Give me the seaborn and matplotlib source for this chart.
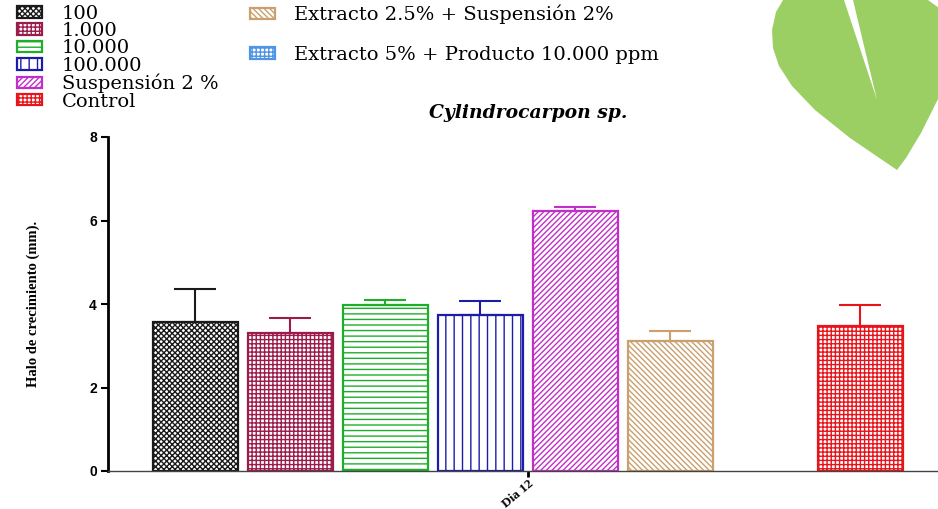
import numpy as np
import pandas as pd
import matplotlib
matplotlib.use("Agg")
import matplotlib.pyplot as plt
import seaborn as sns
from matplotlib.patches import Patch, Polygon

# datos (Dia 12)
grupos = ["100", "1.000", "10.000", "100.000", "Suspensión 2 %",
          "Extracto 2.5% + Suspensión 2%", "Extracto 5% + Producto 10.000 ppm", "Control"]
medias = [3.57, 3.31, 3.98, 3.74, 6.23, 3.11, np.nan, 3.47]
errores = [0.79, 0.35, 0.12, 0.33, 0.09, 0.24, np.nan, 0.51]
colores = ["#1a1a1a", "#9b1b4b", "#1fae2a", "#1c1ca8", "#c030c8", "#c9a06e", "#4f95e6", "#e8141c"]
tramas = ["xxxxxx", "++++", "---", "||", "//////", "\\\\\\\\\\\\", "++++", "++++"]
orden_leyenda_izq = ["100", "1.000", "10.000", "100.000", "Suspensión 2 %", "Control"]
orden_leyenda_der = ["Extracto 2.5% + Suspensión 2%", "Extracto 5% + Producto 10.000 ppm"]
y_ticks = [0, 2, 4, 6, 8]

sns.set_style("white")
plt.rcParams["hatch.linewidth"] = 1.0
plt.rcParams["text.color"] = "black"
plt.rcParams["axes.labelcolor"] = "black"
plt.rcParams["xtick.color"] = "black"
plt.rcParams["ytick.color"] = "black"

df = pd.DataFrame({"grupo": grupos, "media": medias})

fig = plt.figure(figsize=(9.38, 5.09), dpi=100)

# hoja decorativa (esquina superior derecha), detras del grafico
hoja = [(783, 0), (776, 12), (772, 30), (773, 48), (779, 66), (792, 86), (815, 110),
        (850, 138), (897, 170), (906, 158), (921, 133), (939, 97), (939, 8), (928, 0)]
vena = [(844, 0), (853, 0), (877, 100)]
for pts, col in [(hoja, "#9ccf63"), (vena, "white")]:
    fig.add_artist(Polygon([(x / 938, 1 - y / 509) for x, y in pts], closed=True,
                           transform=fig.transFigure, facecolor=col, edgecolor="none", zorder=0))

ax = fig.add_axes([108 / 938, 38 / 509, 830 / 938, 334 / 509])
ax.patch.set_alpha(0)

sns.barplot(data=df, x="grupo", y="media", hue="grupo", order=grupos,
            palette=dict(zip(grupos, colores)), width=0.895, legend=False,
            errorbar=None, ax=ax)

# estilo de cada barra: fondo blanco, borde y trama del color del grupo
for p in ax.patches:
    if np.isnan(p.get_height()):
        continue
    i = int(round(p.get_x() + p.get_width() / 2))
    p.set_facecolor("white")
    p.set_edgecolor(colores[i])
    p.set_hatch(tramas[i])
    p.set_linewidth(1.6)

# barras de error (solo hacia arriba)
for i, (m, e) in enumerate(zip(medias, errores)):
    if np.isnan(m):
        continue
    ax.errorbar(i, m, yerr=[[0], [e]], color=colores[i], capsize=15,
                elinewidth=1.5, capthick=1.5, zorder=3)

ax.set_xlim(-0.921, 7.816)
ax.set_ylim(0, 8)
ax.set_yticks(y_ticks)
ax.set_yticklabels([str(t) for t in y_ticks], fontfamily="Liberation Sans",
                   fontweight="bold", fontsize=10)
ax.set_xticks([3.5])
ax.set_xticklabels(["Dia 12"], rotation=40, ha="right", rotation_mode="anchor",
                   fontfamily="Liberation Serif", fontweight="bold", fontsize=9.5)
ax.set_xlabel("")
ax.set_ylabel("Halo de crecimiento (mm).", fontfamily="Liberation Serif",
              fontweight="bold", fontsize=10.5)
ax.yaxis.set_label_coords(-0.082, 0.5)

sns.despine(ax=ax)
ax.spines["left"].set_linewidth(2)
ax.spines["left"].set_color("black")
ax.spines["bottom"].set_linewidth(1)
ax.spines["bottom"].set_color("#444444")
ax.tick_params(axis="y", direction="out", length=5, width=1.5, color="black", pad=3, left=True)
ax.tick_params(axis="x", direction="out", length=4, width=2, color="black", pad=0.5, bottom=True)

fig.text(528 / 938, 1 - 113 / 509, "Cylindrocarpon sp.", ha="center", va="center",
         fontfamily="DejaVu Serif", fontstyle="italic", fontweight="bold", fontsize=13.5)

# leyendas
def handle(nombre):
    i = grupos.index(nombre)
    return Patch(facecolor="white", edgecolor=colores[i], hatch=tramas[i], linewidth=1.6)

prop = {"family": "DejaVu Serif", "size": 14}
fig.legend([handle(g) for g in orden_leyenda_izq], orden_leyenda_izq,
           loc="upper left", bbox_to_anchor=(0.014, 0.998), frameon=False, prop=prop,
           handlelength=1.3, handleheight=0.55, handletextpad=1.0,
           labelspacing=-0.04, borderaxespad=0, borderpad=0.2)
fig.legend([handle(g) for g in orden_leyenda_der], orden_leyenda_der,
           loc="upper left", bbox_to_anchor=(0.262, 0.998), frameon=False, prop=prop,
           handlelength=1.3, handleheight=0.55, handletextpad=1.0,
           labelspacing=1.1, borderaxespad=0, borderpad=0.2)

fig.savefig("out.png", dpi=100)
